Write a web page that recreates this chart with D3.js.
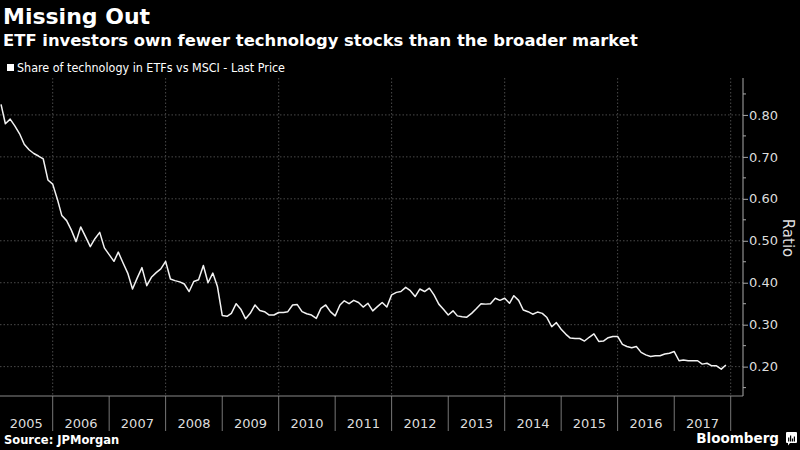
<!DOCTYPE html>
<html>
<head>
<meta charset="utf-8">
<script src="https://cdn.jsdelivr.net/npm/d3@7"></script>
<style>
  body { margin: 0; background: #000; }
  svg { display: block; }
</style>
</head>
<body>
<svg id="chart" width="800" height="450"></svg>
<script>
var firstMonth = "2005-02";
var ratio = [
  0.825, 0.779, 0.790, 0.774, 0.755, 0.730, 0.717, 0.708, 0.702, 0.695, 0.645,
  0.635, 0.598, 0.560, 0.548, 0.526, 0.498, 0.533, 0.510, 0.486, 0.505, 0.520, 0.483,
  0.467, 0.451, 0.473, 0.447, 0.423, 0.385, 0.411, 0.436, 0.393, 0.413, 0.424, 0.433,
  0.451, 0.409, 0.405, 0.402, 0.397, 0.379, 0.403, 0.407, 0.441, 0.400, 0.423, 0.391,
  0.322, 0.320, 0.327, 0.350, 0.337, 0.314, 0.327, 0.347, 0.334, 0.331, 0.323, 0.323,
  0.329, 0.329, 0.331, 0.347, 0.348, 0.331, 0.326, 0.323, 0.315, 0.339, 0.347, 0.331,
  0.321, 0.347, 0.357, 0.350, 0.358, 0.353, 0.342, 0.351, 0.333, 0.343, 0.353, 0.342,
  0.371, 0.377, 0.379, 0.389, 0.381, 0.367, 0.385, 0.379, 0.387, 0.371, 0.349, 0.337,
  0.323, 0.333, 0.321, 0.319, 0.318, 0.327, 0.338, 0.350, 0.349, 0.350, 0.363, 0.358,
  0.363, 0.351, 0.369, 0.358, 0.335, 0.331, 0.325, 0.330, 0.327, 0.317, 0.295, 0.305,
  0.289, 0.277, 0.268, 0.267, 0.267, 0.261, 0.270, 0.278, 0.260, 0.261, 0.269, 0.272,
  0.272, 0.253, 0.248, 0.245, 0.248, 0.234, 0.228, 0.224, 0.226, 0.226, 0.230, 0.232,
  0.236, 0.214, 0.216, 0.214, 0.214, 0.214, 0.206, 0.208, 0.202, 0.202, 0.194, 0.204
];
var yearLabels = ["2005", "2006", "2007", "2008", "2009", "2010", "2011",
                  "2012", "2013", "2014", "2015", "2016", "2017"];
var yTicks = [0.20, 0.30, 0.40, 0.50, 0.60, 0.70, 0.80];
var yMinorTicks = [0.15, 0.25, 0.35, 0.45, 0.55, 0.65, 0.75, 0.85];

var svg = d3.select("#chart");
var plotTop = 78, plotBottom = 396, plotLeft = 0, plotRight = 743;

var start = d3.timeParse("%Y-%m")(firstMonth);
var data = ratio.map(function(v, i) {
  return { date: d3.timeMonth.offset(start, i), value: v };
});

var x = d3.scaleTime()
    .domain([new Date(2006, 0, 1), new Date(2018, 0, 1)])
    .range([52.7, 730.7]);
var y = d3.scaleLinear()
    .domain([0.13, 0.888])
    .range([plotBottom, plotTop]);

// titles
svg.append("text").attr("x", 3).attr("y", 24)
    .attr("fill", "#fff").attr("font-family", "DejaVu Sans")
    .attr("font-weight", "bold").attr("font-size", 22)
    .text("Missing Out");
svg.append("text").attr("x", 3).attr("y", 46)
    .attr("fill", "#fff").attr("font-family", "DejaVu Sans")
    .attr("font-weight", "bold").attr("font-size", 16.4)
    .text("ETF investors own fewer technology stocks than the broader market");

svg.append("rect").attr("x", 7).attr("y", 64).attr("width", 7).attr("height", 7)
    .attr("fill", "#fff");
svg.append("text").attr("x", 17).attr("y", 72)
    .attr("fill", "#fff").attr("font-family", "DejaVu Sans").attr("font-size", 11.5)
    .attr("textLength", 268).attr("lengthAdjust", "spacingAndGlyphs")
    .text("Share of technology in ETFs vs MSCI - Last Price");

// grid
svg.append("g").selectAll("line")
    .data(yTicks).enter().append("line")
    .attr("x1", plotLeft).attr("x2", plotRight)
    .attr("y1", function(d) { return y(d); })
    .attr("y2", function(d) { return y(d); })
    .attr("stroke", "#4a4a4a").attr("stroke-dasharray", "1.5,2");

var gridYears = [2006, 2008, 2010, 2012, 2014, 2016, 2018];
svg.append("g").selectAll("line")
    .data(gridYears).enter().append("line")
    .attr("x1", function(d) { return x(new Date(d, 0, 1)); })
    .attr("x2", function(d) { return x(new Date(d, 0, 1)); })
    .attr("y1", plotTop).attr("y2", plotBottom)
    .attr("stroke", "#4a4a4a").attr("stroke-dasharray", "1.5,2");

// x axis: year boundaries with labels centred in each year
var yearStarts = d3.range(2006, 2019);
svg.append("g").selectAll("line")
    .data(yearStarts).enter().append("line")
    .attr("x1", function(d) { return x(new Date(d, 0, 1)); })
    .attr("x2", function(d) { return x(new Date(d, 0, 1)); })
    .attr("y1", plotBottom).attr("y2", 431)
    .attr("stroke", "#777");
svg.append("line").attr("x1", plotLeft).attr("x2", plotRight)
    .attr("y1", plotBottom).attr("y2", plotBottom)
    .attr("stroke", "#888").attr("stroke-width", 1.2);

svg.append("g").selectAll("text")
    .data(yearLabels).enter().append("text")
    .attr("x", function(d) {
      var yr = +d;
      var a = Math.max(plotLeft, x(new Date(yr, 0, 1)));
      var b = x(new Date(yr + 1, 0, 1));
      return (a + b) / 2;
    })
    .attr("y", 428)
    .attr("text-anchor", "middle")
    .attr("fill", "#ddd").attr("font-family", "DejaVu Sans").attr("font-size", 13)
    .text(function(d) { return d; });

// right axis
var yAxis = d3.axisRight(y).tickValues(yTicks).tickSize(5).tickPadding(1)
    .tickFormat(d3.format(".2f"));
var ga = svg.append("g").attr("transform", "translate(" + plotRight + ",0)").call(yAxis);
ga.select(".domain").attr("d", "M0," + plotTop + "V" + plotBottom).attr("stroke", "#aaa");
ga.selectAll(".tick line").attr("stroke", "#aaa");
ga.selectAll(".tick text").attr("fill", "#ddd")
    .attr("font-family", "DejaVu Sans").attr("font-size", 13);
svg.append("g").selectAll("line")
    .data(yMinorTicks).enter().append("line")
    .attr("x1", plotRight).attr("x2", plotRight + 3)
    .attr("y1", function(d) { return y(d); })
    .attr("y2", function(d) { return y(d); })
    .attr("stroke", "#aaa");

svg.append("text")
    .attr("transform", "translate(783,238) rotate(90)")
    .attr("text-anchor", "middle")
    .attr("fill", "#ddd").attr("font-family", "DejaVu Sans").attr("font-size", 15)
    .text("Ratio");

// the series
var line = d3.line()
    .x(function(d) { return x(d.date); })
    .y(function(d) { return y(d.value); });
svg.append("path").datum(data)
    .attr("d", line)
    .attr("fill", "none").attr("stroke", "#f2f2f2").attr("stroke-width", 1.5)
    .attr("stroke-linejoin", "round");

// footer
svg.append("text").attr("x", 4).attr("y", 444)
    .attr("fill", "#fff").attr("font-family", "DejaVu Sans")
    .attr("font-weight", "bold").attr("font-size", 11.5)
    .text("Source: JPMorgan");
svg.append("text").attr("x", 779).attr("y", 443)
    .attr("text-anchor", "end")
    .attr("fill", "#fff").attr("font-family", "DejaVu Sans")
    .attr("font-weight", "bold").attr("font-size", 13.5)
    .text("Bloomberg");
var logo = svg.append("g").attr("transform", "translate(786,432)");
logo.append("path")
    .attr("d", "M1,0H10A1,1 0 0 1 11,1V10A1,1 0 0 1 10,11H4L2,13.5V11H1A1,1 0 0 1 0,10V1A1,1 0 0 1 1,0Z")
    .attr("fill", "#fff");
logo.selectAll("rect.bar")
    .data([[2.7, 4], [4.6, 6], [6.5, 3], [8.4, 5]]).enter().append("rect")
    .attr("class", "bar")
    .attr("x", function(d) { return d[0] - 0.6; })
    .attr("y", function(d) { return 9.5 - d[1]; })
    .attr("width", 1.2)
    .attr("height", function(d) { return d[1]; })
    .attr("fill", "#000");
</script>
</body>
</html>
